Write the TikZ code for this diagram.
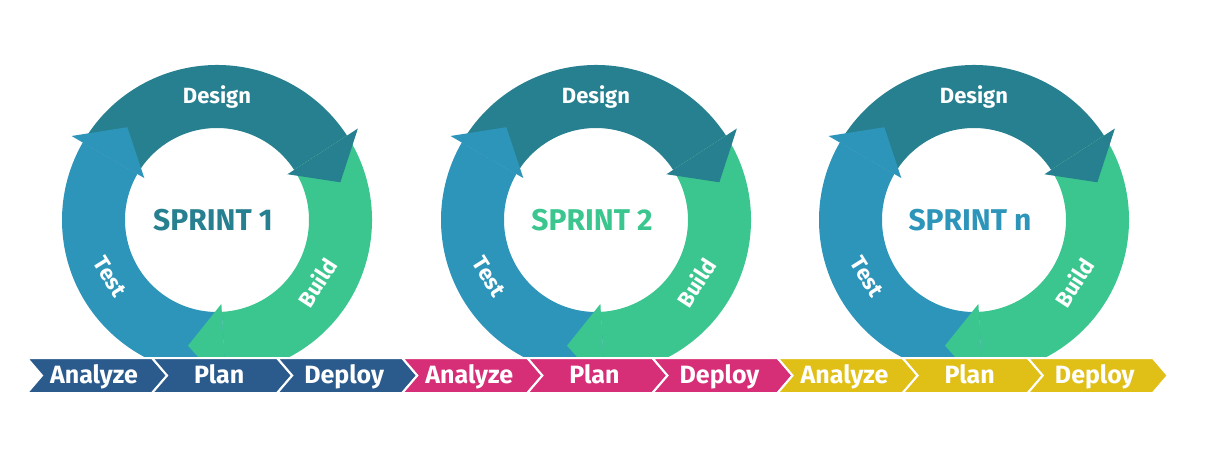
\documentclass[tikz,border=0pt]{standalone}
\usepackage{fontspec}
\setmainfont{Fira Sans}
\usetikzlibrary{calc}

\definecolor{design}{HTML}{27808F}
\definecolor{build}{HTML}{3AC68E}
\definecolor{test}{HTML}{2E95BA}
\definecolor{albastru}{HTML}{2B5B8D}
\definecolor{roz}{HTML}{D62F78}
\definecolor{galben}{HTML}{E0BF16}

\begin{document}
\begin{tikzpicture}[x=1pt,y=1pt,
    eticheta/.style={text=white,font=\bfseries\fontsize{22}{22}\selectfont},
    sprint/.style={font=\bfseries\fontsize{30}{30}\selectfont},
    faza/.style={draw=white,line width=2pt}]
  \useasboundingbox (0,0) rectangle (1208,-450);

  % cele trei cercuri
  \foreach \cx/\nume/\culoare [count=\k] in {217/1/design, 596/2/build, 974/n/test}
  {
    \coordinate (c\k) at (\cx,-220);
    % corpurile sagetilor
    \foreach \a/\b/\col in {150/33/design, 33/-87/build, -87/-210/test}
      \fill[\col] ($(c\k)+(\a:155pt)$) arc[start angle=\a,end angle=\b,radius=155pt]
        -- ($(c\k)+(\b:92pt)$) arc[start angle=\b,end angle=\a,radius=92pt] -- cycle;
    % vîrfurile sagetilor
    \foreach \b/\col in {33/design, -87/build, -210/test}
      \fill[\col] ($(c\k)+(\b:168pt)$) -- ($(c\k)+({\b-16}:129pt)$)
        -- ($(c\k)+(\b:84pt)$) -- cycle;

    \node[eticheta] (design\k) at ($(c\k)+(90:123pt)$) {Design};
    \node[eticheta,rotate=57] (build\k) at ($(c\k)+(-32:118pt)$) {Build};
    \node[eticheta,rotate=-58] (test\k) at ($(c\k)+(208:121pt)$) {Test};
    \node[sprint,text=\culoare] (sprint\k) at ($(c\k)+(-4,0)$) {SPRINT \nume};
  }

  % banda de faze
  \foreach \t/\col [count=\i from 0] in {Analyze/albastru, Plan/albastru, Deploy/albastru,
      Analyze/roz, Plan/roz, Deploy/roz, Analyze/galben, Plan/galben, Deploy/galben}
  {
    \begin{scope}[xshift={\i*125.1}]
      \filldraw[faza,fill=\col] (27,-358) -- (152,-358) -- (167,-375.5) -- (152,-393)
        -- (27,-393) -- (42,-375.5) -- cycle;
      \node[eticheta,font=\bfseries\fontsize{25}{25}\selectfont,anchor=base]
        (faza\i) at (94,-383) {\t};
    \end{scope}
  }
\end{tikzpicture}
\end{document}
